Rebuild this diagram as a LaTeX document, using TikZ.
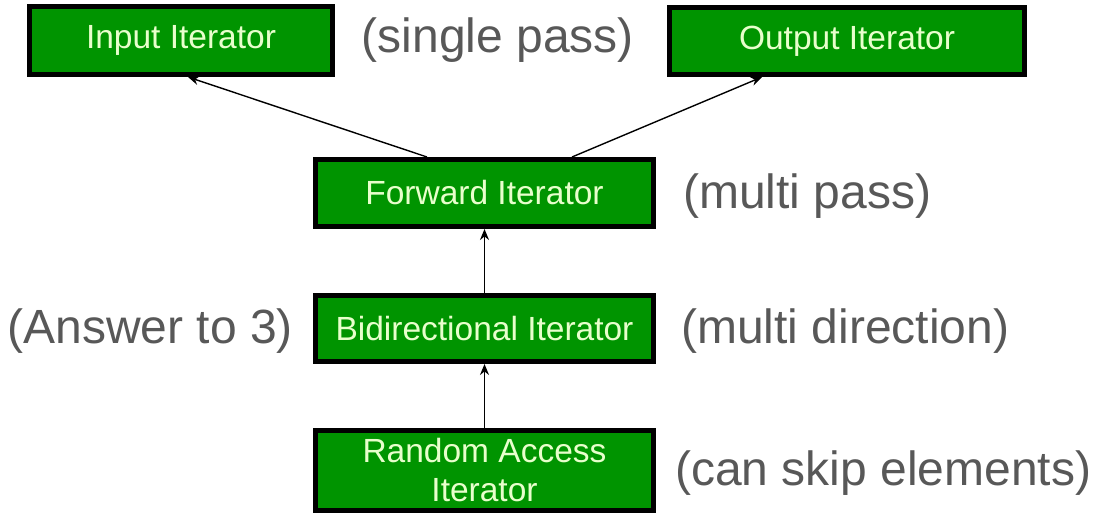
\documentclass[tikz,border=0pt]{standalone}
\usepackage{fontspec}
\setmainfont{Liberation Sans}
\usetikzlibrary{arrows.meta}
\definecolor{boxgreen}{RGB}{0,148,0}
\definecolor{boxtext}{RGB}{232,255,204}
\definecolor{labelgray}{RGB}{88,88,88}
\tikzset{
  itbox/.style={draw=black, line width=5pt, fill=boxgreen, text=boxtext, inner sep=0pt,
    align=center, font=\fontsize{33.5}{39}\selectfont},
  lbl/.style={text=labelgray, inner sep=0pt, font=\fontsize{48}{56}\selectfont},
  arr/.style={draw=black, line width=1.4pt, -{Stealth[length=11pt,width=9pt]}}
}
\begin{document}
\begin{tikzpicture}[x=1pt,y=-1pt]
\useasboundingbox[fill=white] (0,0) rectangle (1094,515);
\node[itbox, minimum width=303pt, minimum height=68pt] (in) at (181,40.5) {Input Iterator};
\node[itbox, minimum width=355pt, minimum height=67pt] (out) at (847,41) {Output Iterator};
\node[itbox, minimum width=338pt, minimum height=67pt] (fwd) at (484.5,193) {Forward Iterator};
\node[itbox, minimum width=338pt, minimum height=66pt] (bid) at (484.5,328.5) {Bidirectional Iterator};
\node[itbox, minimum width=338pt, minimum height=80pt] (ran) at (484.5,470.5) {Random Access\\Iterator};

\node[lbl] (l1) at (498,40) {(single pass)};
\node[lbl, anchor=west] (l2) at (683,196) {(multi pass)};
\node[lbl, anchor=east] (l3) at (293,331) {(Answer to 3)};
\node[lbl, anchor=west] (l4) at (681,331) {(multi direction)};
\node[lbl, anchor=west] (l5) at (675,473) {(can skip elements)};

\draw[arr] ([xshift=-57.5pt]fwd.north) -- ([xshift=7pt]in.south);
\draw[arr] ([xshift=87.5pt]fwd.north) -- ([xshift=-85pt]out.south);
\draw[arr] (bid.north) -- (fwd.south);
\draw[arr] (ran.north) -- (bid.south);
\end{tikzpicture}
\end{document}
